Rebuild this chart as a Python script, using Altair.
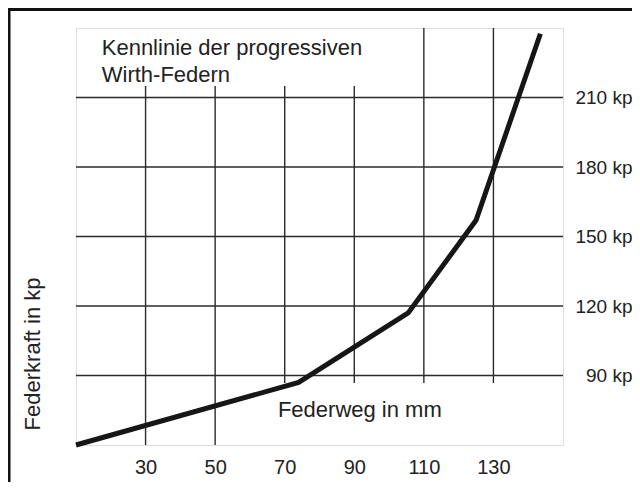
import altair as alt
import pandas as pd

# Spring characteristic (Federweg mm -> Federkraft kp)
weg = [10, 74, 105.5, 125, 143.5]
kraft = [60, 87, 117, 157, 237.5]

# axis ticks
x_ticks = [30, 50, 70, 90, 110, 130]
y_ticks = [90, 120, 150, 180, 210]

# vertical grid lines (x value, lower end, upper end in data units)
vgrid_x = [30, 50, 70, 90, 110, 130]
vgrid_lo = [60, 60, 86.8, 86.8, 86.8, 86.8]
vgrid_hi = [215, 215, 215, 215, 240, 240]

# horizontal grid lines
hgrid_y = [90, 120, 150, 180, 210]

title_text = "Kennlinie der progressiven\nWirth-Federn"
x_title = "Federweg in mm"
y_title = "Federkraft in kp"

W, H = 487, 417
FONT = "Liberation Sans"
TXT = "#222222"

xs = alt.Scale(domain=[10, 150], nice=False, zero=False)
ys = alt.Scale(domain=[60, 240], nice=False, zero=False)

line_df = pd.DataFrame({"weg": weg, "kraft": kraft})
vg_df = pd.DataFrame({"x": vgrid_x, "lo": vgrid_lo, "hi": vgrid_hi})
hg_df = pd.DataFrame({"y": hgrid_y, "x0": [10] * len(hgrid_y), "x1": [150] * len(hgrid_y)})
one = pd.DataFrame({"a": [0]})

vgrid = alt.Chart(vg_df).mark_rule(color="#2a2a2a", strokeWidth=1.4).encode(
    x=alt.X("x:Q", scale=xs,
            axis=alt.Axis(values=x_ticks, title=None, domain=False, ticks=False, grid=False,
                          labelFont=FONT, labelFontSize=20, labelColor=TXT, labelPadding=12)),
    y=alt.Y("lo:Q", scale=ys,
            axis=alt.Axis(orient="right", values=y_ticks, title=None, domain=False, ticks=False,
                          tickSize=0, grid=False, labelExpr="datum.value + ' kp'",
                          labelAlign="right", labelBaseline="middle", labelPadding=69,
                          labelFont=FONT, labelFontSize=19, labelColor=TXT)),
    y2="hi:Q",
)

hgrid = alt.Chart(hg_df).mark_rule(color="#2a2a2a", strokeWidth=1.4).encode(
    y=alt.Y("y:Q", scale=ys),
    x=alt.X("x0:Q", scale=xs),
    x2="x1:Q",
)

curve = alt.Chart(line_df).mark_line(color="#161616", strokeWidth=5, strokeJoin="miter").encode(
    x=alt.X("weg:Q", scale=xs),
    y=alt.Y("kraft:Q", scale=ys),
    order="weg:Q",
)

ann_title = alt.Chart(one).mark_text(
    text=title_text, lineBreak="\n", lineHeight=27, align="left", baseline="alphabetic",
    font=FONT, fontSize=22, color=TXT,
).encode(x=alt.datum(17.4, scale=xs), y=alt.datum(228.3, scale=ys))

ann_x = alt.Chart(one).mark_text(
    text=x_title, align="center", baseline="alphabetic",
    font=FONT, fontSize=22, color=TXT,
).encode(x=alt.datum(91.6, scale=xs), y=alt.datum(72.1, scale=ys))

ann_y = alt.Chart(one).mark_text(
    text=y_title, align="center", baseline="middle", angle=270,
    font=FONT, fontSize=22, color=TXT,
).encode(x=alt.value(-43), y=alt.datum(99.3, scale=ys))

border_top = alt.Chart(one).mark_rule(color="#111111", strokeWidth=3).encode(
    x=alt.value(-70), x2=alt.value(W + 80), y=alt.value(-18.5))
border_left = alt.Chart(one).mark_rule(color="#111111", strokeWidth=3).encode(
    x=alt.value(-67), y=alt.value(-20), y2=alt.value(H + 60))

chart = alt.layer(vgrid, hgrid, curve, ann_title, ann_x, ann_y, border_top, border_left).properties(
    width=W, height=H,
    autosize=alt.AutoSizeParams(type="none"),
    padding={"left": 68, "top": 20, "right": 69, "bottom": 37},
).configure_view(stroke="#444444", strokeWidth=1.5).configure(background="white")

chart.save("out.html", embed_options={"renderer": "svg", "actions": False})
